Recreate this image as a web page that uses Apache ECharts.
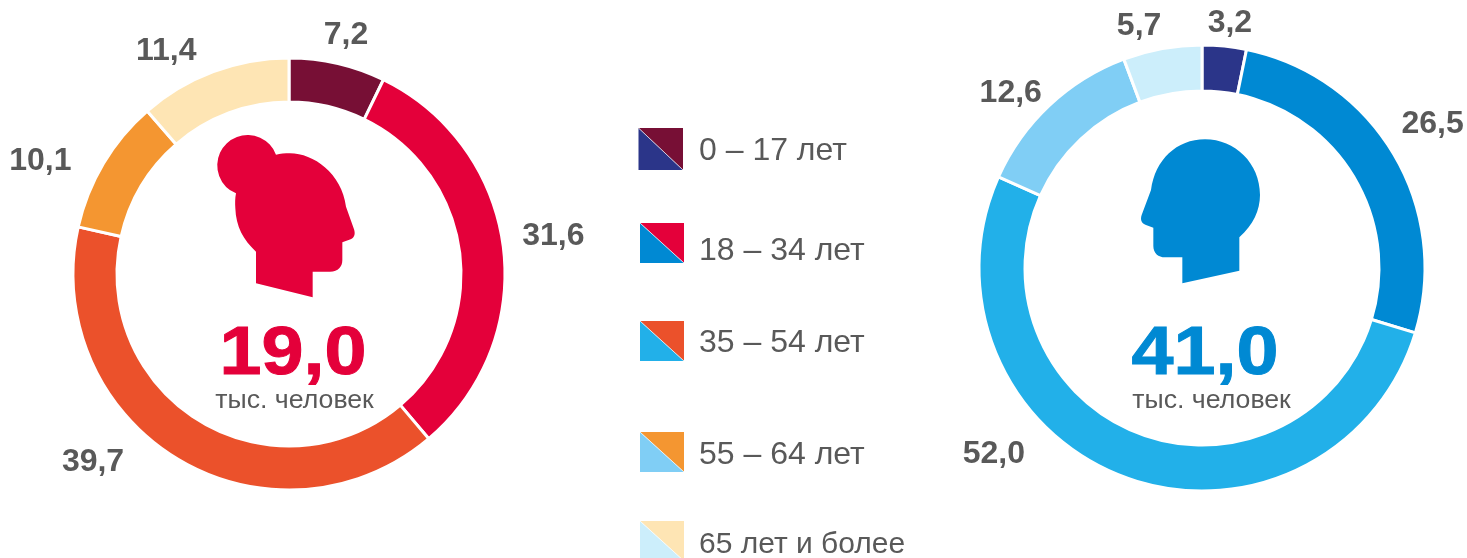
<!DOCTYPE html>
<html><head><meta charset="utf-8">
<style>html,body{margin:0;padding:0;background:#fff}#c{width:1467px;height:558px}</style>
<script src="https://cdn.jsdelivr.net/npm/echarts@6/dist/echarts.min.js"></script>
</head><body><div id="c"></div>
<script>
const categories = ['0 – 17 лет','18 – 34 лет','35 – 54 лет','55 – 64 лет','65 лет и более'];
const womenValues = [7.2,31.6,39.7,10.1,11.4];
const menValues = [3.2,26.5,52.0,12.6,5.7];
const womenColors = ['#770F35','#E4003A','#EB512B','#F49631','#FEE5B4'];
const menColors = ['#2B3589','#0089D3','#22B0E9','#80CEF5','#CCEEFB'];
const womenTotal = '19,0', menTotal = '41,0', unit = 'тыс. человек';
const FONT = '"Liberation Sans", Arial, sans-serif';
const GREY = '#595959';
const fmt = v => v.toFixed(1).replace('.', ',');
const womenNudge=[[-29.5,-21],[-3,-10],[-35,-4],[-11,2],[0,-13]];
const menNudge=[[-31.5,-15],[-13,-26],[-82,-30],[12,-6],[14.5,-15]];

function pie(values, colors, center, radius, nudge) {
  return {
    type:'pie', center, radius, startAngle:90, silent:true, animation:false,
    avoidLabelOverlap:false,
    itemStyle:{borderColor:'#fff',borderWidth:3},
    label:{show:true,position:'outside',formatter:p=>fmt(p.value),fontFamily:FONT,fontSize:32,fontWeight:'bold',color:GREY,distanceToLabelLine:14},
    labelLine:{show:false,length:8,length2:0},
    labelLayout:p=>({dx:nudge[p.dataIndex][0],dy:nudge[p.dataIndex][1]}),
    data:values.map((v,i)=>({name:categories[i],value:v,itemStyle:{color:colors[i]}}))
  };
}
const womanPath='M168 490L338 532L338 455L390 455C415 455 427 440 427 420L427 367L452 358C465 352 466 340 462 328L438 260C425 160 340 100 270 100C255 100 240 101 228 104A91 91 0 1 0 108 220C105 235 105 250 106 265C108 320 130 360 168 395Z';
const manPath='M187 490L358 452L358 352C400 315 420 270 420 225C420 130 345 58 255 58C170 58 105 120 93 210L65 285C60 300 65 310 78 315L100 323L100 378C100 400 115 412 135 412L187 412Z';
echarts.graphic.registerShape('womanHead',echarts.graphic.extendPath(womanPath));
echarts.graphic.registerShape('manHead',echarts.graphic.extendPath(manPath));
const swatches=[[638.5,128,44.5,42],[640,223,44,40],[640,321,44,40],[640,432,44,40],[640,521,44,40]];
const legendTextY=[151,251,343,455,545];
const legendSize=[32,32,32,32,30];
const graphics=[
 {type:'womanHead',silent:true,x:200,y:120,scaleX:1/3,scaleY:1/3,style:{fill:'#E4003A'}},
 {type:'manHead',silent:true,x:1120,y:120,scaleX:1/3,scaleY:1/3,style:{fill:'#0089D3'}},
 {type:'text',silent:true,x:293,y:355,scaleX:1.11,style:{text:womenTotal,font:'bold 68px '+FONT,fill:'#E4003A',stroke:'#E4003A',lineWidth:1,textAlign:'center',textVerticalAlign:'middle'}},
 {type:'text',silent:true,x:1205,y:355,scaleX:1.11,style:{text:menTotal,font:'bold 68px '+FONT,fill:'#0089D3',stroke:'#0089D3',lineWidth:1,textAlign:'center',textVerticalAlign:'middle'}},
 {type:'text',silent:true,x:294.5,y:401,style:{text:unit,font:'26.7px '+FONT,fill:GREY,textAlign:'center',textVerticalAlign:'middle'}},
 {type:'text',silent:true,x:1211.5,y:401,style:{text:unit,font:'26.7px '+FONT,fill:GREY,textAlign:'center',textVerticalAlign:'middle'}}
];
categories.forEach((c,i)=>{
  const [x,y,w,h]=swatches[i];
  graphics.push({type:'polygon',silent:true,shape:{points:[[x,y],[x+w,y],[x+w,y+h]]},style:{fill:womenColors[i]}});
  graphics.push({type:'polygon',silent:true,shape:{points:[[x,y],[x+w,y+h],[x,y+h]]},style:{fill:menColors[i]}});
  graphics.push({type:'line',silent:true,shape:{x1:x,y1:y,x2:x+w,y2:y+h},style:{stroke:'#fff',lineWidth:1,opacity:0.7}});
  graphics.push({type:'text',silent:true,x:699,y:legendTextY[i],style:{text:c,font:legendSize[i]+'px '+FONT,fill:GREY,textAlign:'left',textVerticalAlign:'middle'}});
});
const chart=echarts.init(document.getElementById('c'),null,{renderer:'canvas'});
chart.setOption({
  animation:false,
  series:[pie(womenValues,womenColors,[289,274],[172,216],womenNudge),pie(menValues,menColors,[1202,268],[177,223],menNudge)],
  graphic:graphics
});
</script></body></html>
